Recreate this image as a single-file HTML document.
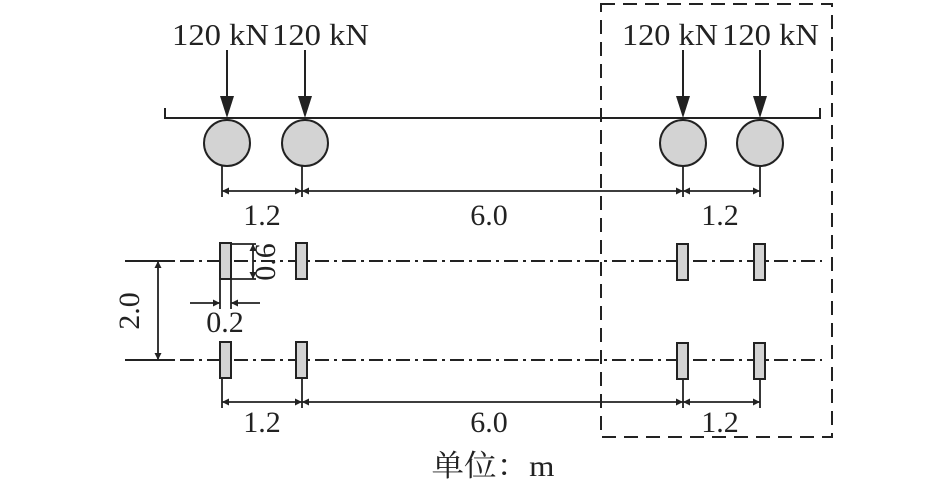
<!DOCTYPE html>
<html><head><meta charset="utf-8"><style>
html,body{margin:0;padding:0;background:#fff;}
svg{display:block;}
text{font-family:"Liberation Serif","Noto Serif CJK SC",serif;fill:#222;}
</style></head><body>
<svg width="945" height="488" viewBox="0 0 945 488" xmlns="http://www.w3.org/2000/svg">
<defs>
<marker id="sa" viewBox="0 0 10 10" refX="10" refY="5" markerWidth="10" markerHeight="7" orient="auto-start-reverse" markerUnits="userSpaceOnUse">
<path d="M0,0 L10,5 L0,10 z" fill="#222"/></marker>
</defs>
<g stroke="#222" fill="none" stroke-width="2">
<rect x="601" y="4" width="231" height="433" stroke-dasharray="14,8"/>
<path d="M165,108 V118 H820 V108"/>
</g>
<g stroke="#222" stroke-width="2">
<line x1="227" y1="50" x2="227" y2="100"/><line x1="305" y1="50" x2="305" y2="100"/>
<line x1="683" y1="50" x2="683" y2="100"/><line x1="760" y1="50" x2="760" y2="100"/>
</g>
<g fill="#222">
<path d="M220,96 L234,96 L227,118 z"/><path d="M298,96 L312,96 L305,118 z"/>
<path d="M676,96 L690,96 L683,118 z"/><path d="M753,96 L767,96 L760,118 z"/>
</g>
<g font-size="31">
<text x="172" y="45" textLength="97" lengthAdjust="spacingAndGlyphs">120 kN</text>
<text x="272" y="45" textLength="97" lengthAdjust="spacingAndGlyphs">120 kN</text>
<text x="622" y="45" textLength="96" lengthAdjust="spacingAndGlyphs">120 kN</text>
<text x="722" y="45" textLength="97" lengthAdjust="spacingAndGlyphs">120 kN</text>
</g>
<g fill="#d3d3d3" stroke="#222" stroke-width="2">
<circle cx="227" cy="143" r="23"/><circle cx="305" cy="143" r="23"/>
<circle cx="683" cy="143" r="23"/><circle cx="760" cy="143" r="23"/>
</g>
<g stroke="#222" stroke-width="1.8">
<line x1="222" y1="166" x2="222" y2="197"/><line x1="302" y1="166" x2="302" y2="197"/>
<line x1="683" y1="166" x2="683" y2="197"/><line x1="760" y1="166" x2="760" y2="197"/>
<line x1="222" y1="191" x2="302" y2="191" marker-start="url(#sa)" marker-end="url(#sa)"/>
<line x1="302" y1="191" x2="683" y2="191" marker-start="url(#sa)" marker-end="url(#sa)"/>
<line x1="683" y1="191" x2="760" y2="191" marker-start="url(#sa)" marker-end="url(#sa)"/>
</g>
<g font-size="30" text-anchor="middle">
<text x="262" y="225">1.2</text><text x="489" y="225">6.0</text><text x="720" y="225">1.2</text>
</g>
<g stroke="#222" stroke-width="2">
<line x1="125" y1="261" x2="175" y2="261"/><line x1="125" y1="360" x2="175" y2="360"/>
<line x1="180" y1="261" x2="822" y2="261" stroke-dasharray="14,5,3,5"/>
<line x1="180" y1="360" x2="822" y2="360" stroke-dasharray="14,5,3,5"/>
</g>
<g fill="#d3d3d3" stroke="#222" stroke-width="2">
<rect x="220" y="243" width="11" height="36"/><rect x="296" y="243" width="11" height="36"/>
<rect x="677" y="244" width="11" height="36"/><rect x="754" y="244" width="11" height="36"/>
<rect x="220" y="342" width="11" height="36"/><rect x="296" y="342" width="11" height="36"/>
<rect x="677" y="343" width="11" height="36"/><rect x="754" y="343" width="11" height="36"/>
</g>
<g stroke="#222" stroke-width="1.8">
<line x1="158" y1="261" x2="158" y2="360" marker-start="url(#sa)" marker-end="url(#sa)"/>
<line x1="231" y1="244" x2="256" y2="244"/><line x1="231" y1="279" x2="256" y2="279"/>
<line x1="253" y1="244" x2="253" y2="279" marker-start="url(#sa)" marker-end="url(#sa)"/>
<line x1="220" y1="279" x2="220" y2="309"/><line x1="231" y1="279" x2="231" y2="309"/>
<line x1="190" y1="303" x2="220" y2="303" marker-end="url(#sa)"/>
<line x1="260" y1="303" x2="231" y2="303" marker-end="url(#sa)"/>
<line x1="222" y1="378" x2="222" y2="408"/><line x1="302" y1="378" x2="302" y2="408"/>
<line x1="683" y1="379" x2="683" y2="408"/><line x1="760" y1="379" x2="760" y2="408"/>
<line x1="222" y1="402" x2="302" y2="402" marker-start="url(#sa)" marker-end="url(#sa)"/>
<line x1="302" y1="402" x2="683" y2="402" marker-start="url(#sa)" marker-end="url(#sa)"/>
<line x1="683" y1="402" x2="760" y2="402" marker-start="url(#sa)" marker-end="url(#sa)"/>
</g>
<g font-size="30" text-anchor="middle">
<text x="225" y="332">0.2</text>
<text transform="translate(139,311) rotate(-90)">2.0</text>
<text transform="translate(275,262) rotate(-90)">0.6</text>
<text x="262" y="432">1.2</text><text x="489" y="432">6.0</text><text x="720" y="432">1.2</text>
<text x="493" y="476" textLength="123" lengthAdjust="spacingAndGlyphs">单位：m</text>
</g>
</svg>
</body></html>
